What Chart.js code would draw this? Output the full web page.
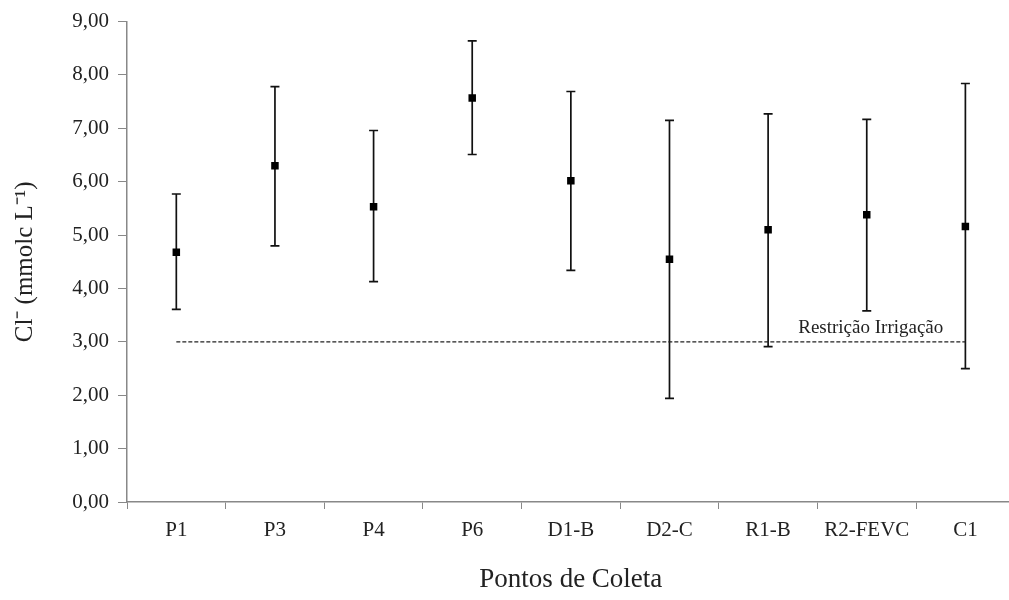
<!DOCTYPE html>
<html>
<head>
<meta charset="utf-8">
<script src="https://cdn.jsdelivr.net/npm/chart.js@4"></script>
<style>
    html, body { margin: 0; padding: 0; background: #fff; overflow: hidden; }
    #wrap { width: 1020px; height: 600px; }
</style>
</head>
<body>
<div id="wrap"><canvas id="clChart"></canvas></div>
<script>
// ===== 데이터 =====
const categories = ['P1', 'P3', 'P4', 'P6', 'D1-B', 'D2-C', 'R1-B', 'R2-FEVC', 'C1'];
const means = [4.68, 6.30, 5.53, 7.57, 6.02, 4.55, 5.10, 5.38, 5.16];
const upper = [5.77, 7.78, 6.96, 8.64, 7.69, 7.15, 7.27, 7.17, 7.84];
const lower = [3.61, 4.80, 4.13, 6.51, 4.34, 1.94, 2.91, 3.58, 2.50];
const limitValue = 3;
const limitLabel = 'Restrição Irrigação';
const yTicks = [0, 1, 2, 3, 4, 5, 6, 7, 8, 9];

const serif = '"Liberation Serif", "Times New Roman", serif';

// 오차 막대 + 기준선 라벨
const errorBars = {
    id: 'errorBars',
    beforeDatasetsDraw(chart) {
        const { ctx, scales: { x, y } } = chart;
        ctx.save();
        ctx.strokeStyle = '#111';
        ctx.lineWidth = 1.7;
        categories.forEach((c, i) => {
            const px = x.getPixelForValue(i);
            const top = y.getPixelForValue(upper[i]);
            const bot = y.getPixelForValue(lower[i]);
            ctx.beginPath();
            ctx.moveTo(px, top); ctx.lineTo(px, bot);
            ctx.moveTo(px - 4.5, top); ctx.lineTo(px + 4.5, top);
            ctx.moveTo(px - 4.5, bot); ctx.lineTo(px + 4.5, bot);
            ctx.stroke();
        });
        ctx.restore();
    },
    afterDatasetsDraw(chart) {
        const { ctx, scales: { x, y } } = chart;
        ctx.save();
        ctx.font = '19px ' + serif;
        ctx.fillStyle = '#222';
        ctx.textAlign = 'center';
        ctx.textBaseline = 'alphabetic';
        ctx.fillText(limitLabel, x.getPixelForValue(7) + 4, y.getPixelForValue(limitValue) - 9);
        ctx.restore();
    }
};

new Chart(document.getElementById('clChart'), {
    type: 'line',
    data: {
        labels: categories,
        datasets: [{
            data: means,
            showLine: false,
            pointStyle: 'rect',
            pointRadius: 5.3,
            backgroundColor: '#000',
            borderColor: '#000',
            borderWidth: 0
        }, {
            data: categories.map(() => limitValue),
            borderColor: '#222',
            borderWidth: 1.4,
            borderDash: [4, 2],
            pointRadius: 0,
            fill: false
        }]
    },
    options: {
        responsive: true,
        maintainAspectRatio: false,
        animation: false,
        layout: { padding: { top: 17, right: 4, left: 0, bottom: 0 } },
        plugins: { legend: { display: false }, tooltip: { enabled: false } },
        scales: {
            x: {
                offset: true,
                afterFit: s => { s.height = 98; },
                grid: { offset: true, drawOnChartArea: false, color: '#888', tickLength: 7 },
                border: { color: '#888', width: 1.5 },
                ticks: { color: '#222', font: { family: serif, size: 21 }, padding: 9, maxRotation: 0 },
                title: { display: true, text: 'Pontos de Coleta', color: '#222', font: { family: serif, size: 27 }, padding: { top: 23 } }
            },
            y: {
                min: 0,
                max: 9,
                afterFit: s => { s.width = 127; },
                afterBuildTicks: s => { s.ticks = yTicks.map(v => ({ value: v })); },
                grid: { drawOnChartArea: false, color: '#888', tickLength: 9 },
                border: { color: '#888', width: 1.5 },
                ticks: {
                    color: '#222',
                    font: { family: serif, size: 21 },
                    padding: 9,
                    callback: v => v.toFixed(2).replace('.', ',')
                },
                title: { display: true, text: 'Cl⁻ (mmolc L⁻¹)', color: '#222', font: { family: serif, size: 25 }, padding: { top: 10, bottom: 0 } }
            }
        }
    },
    plugins: [errorBars]
});
</script>
</body>
</html>
